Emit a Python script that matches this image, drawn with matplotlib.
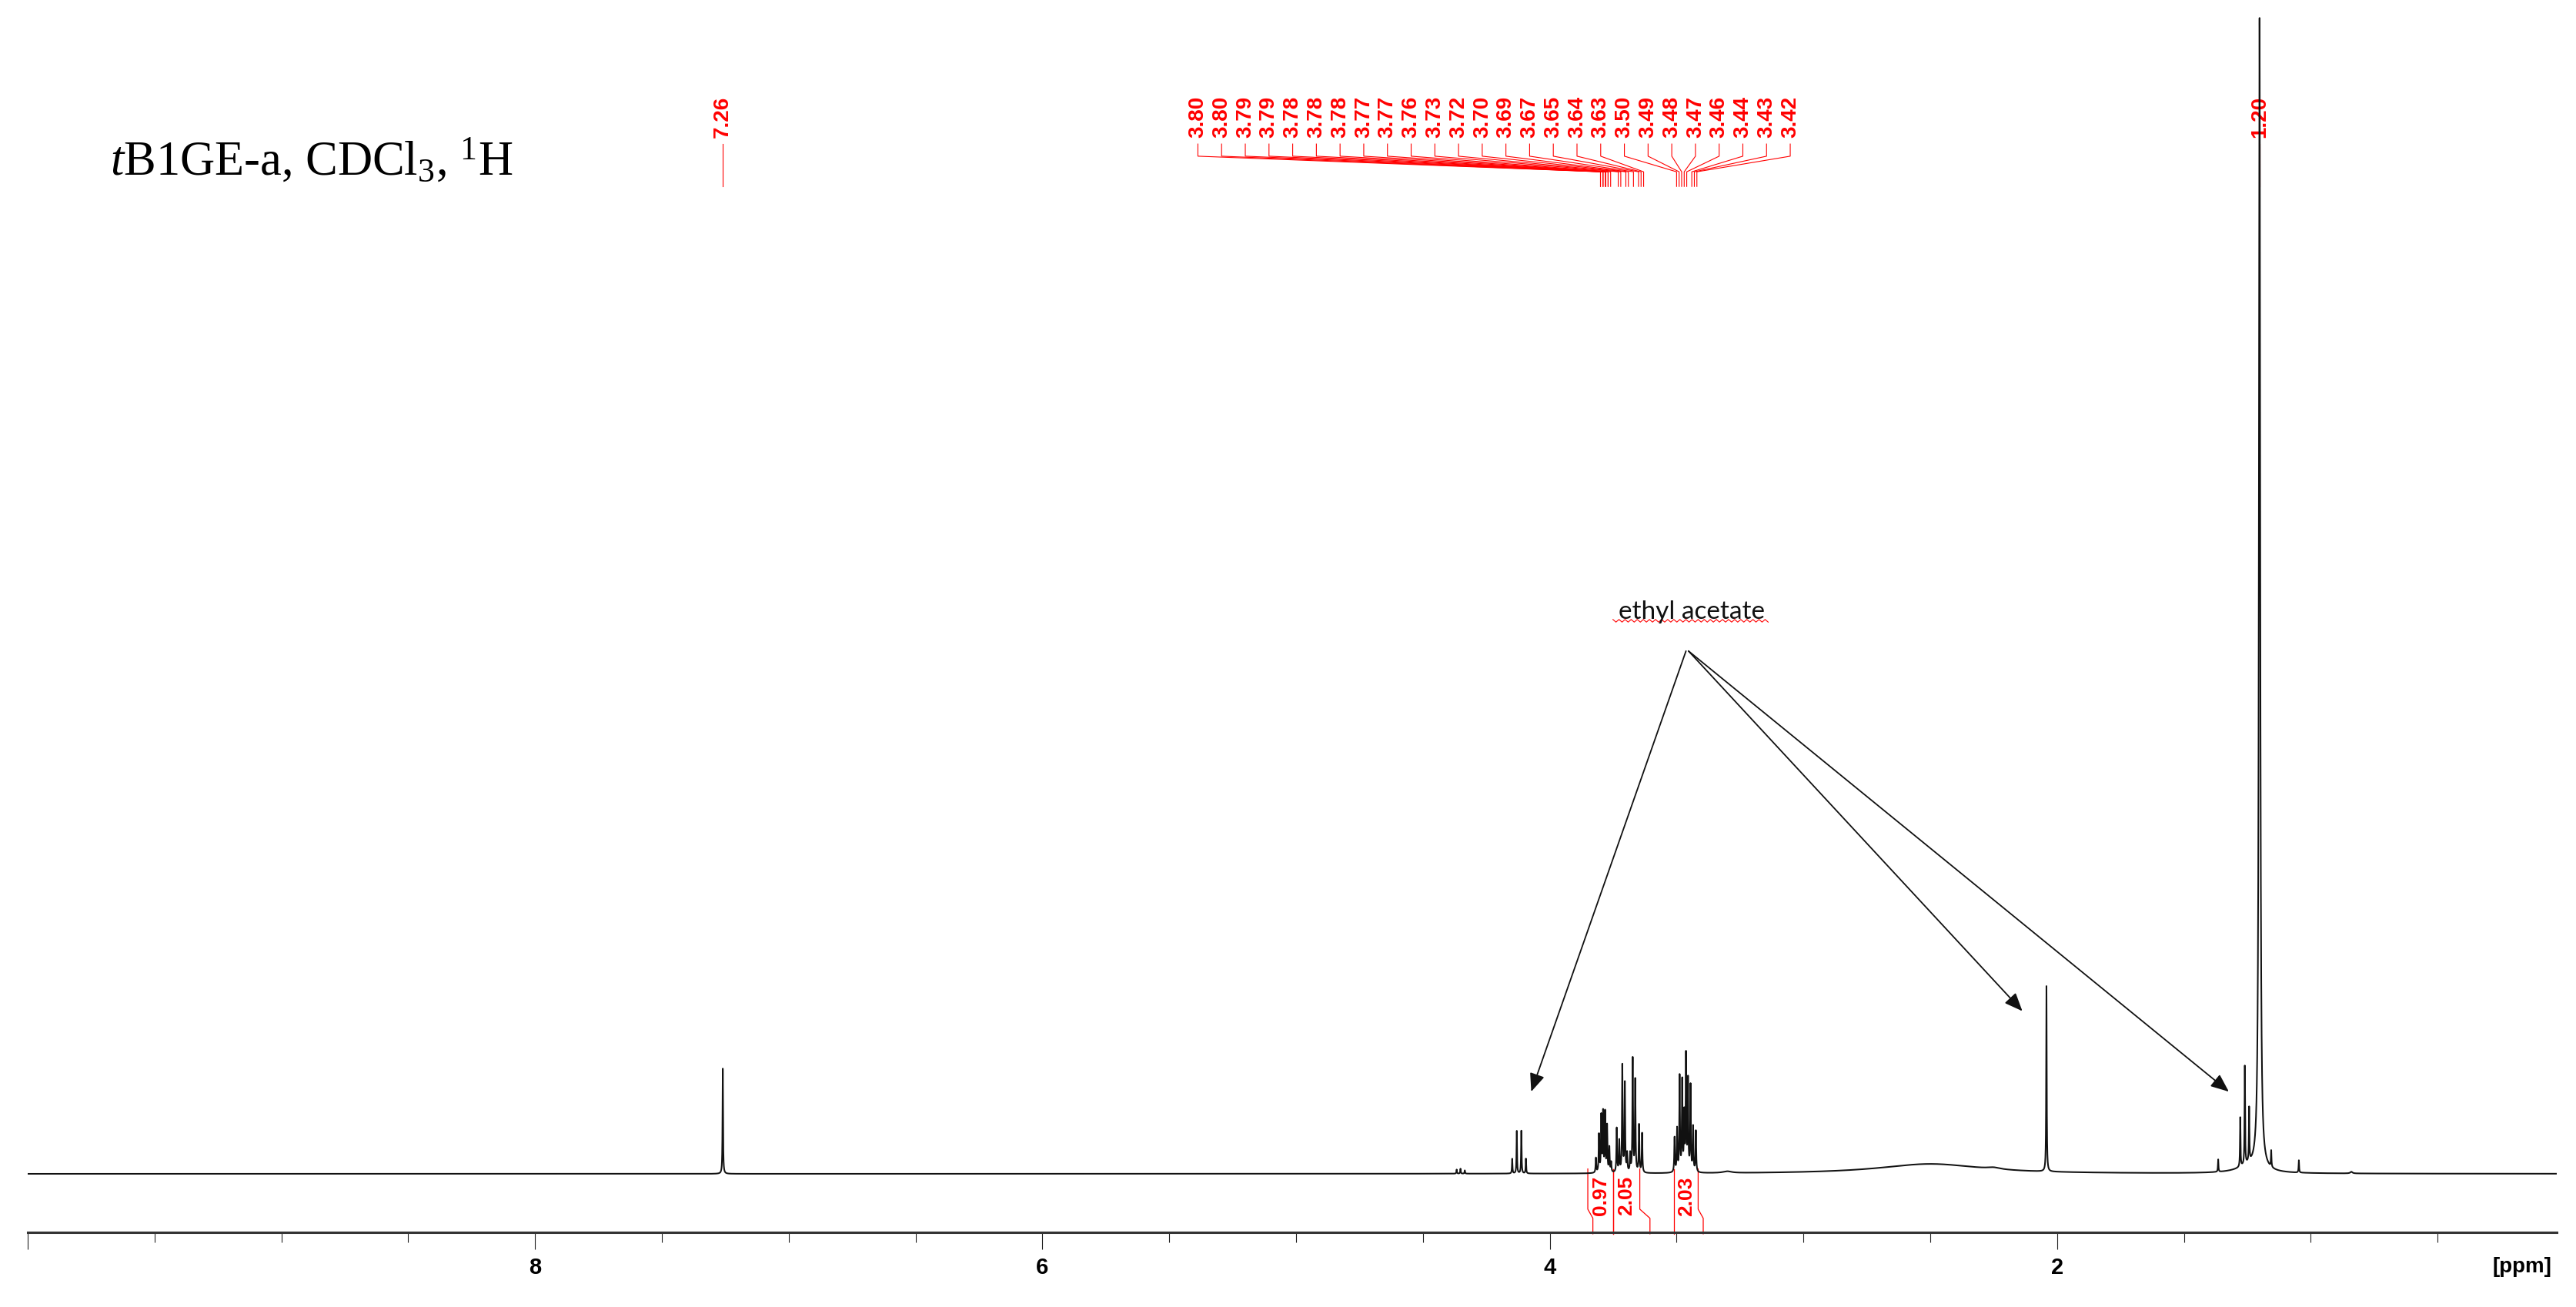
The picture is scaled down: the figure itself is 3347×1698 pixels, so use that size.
import numpy as np
import matplotlib.pyplot as plt

plt.rcParams['mathtext.fontset'] = 'custom'
plt.rcParams['mathtext.rm'] = 'Liberation Serif'
plt.rcParams['mathtext.it'] = 'Liberation Serif:italic'

# Peak list: position (ppm), height (arb.), half width (ppm)
peak_ppm = [7.26, 4.367, 4.352, 4.335,
            4.148, 4.130, 4.112, 4.094,
            3.818, 3.806, 3.797, 3.790, 3.782, 3.774, 3.765, 3.758,
            3.736, 3.726, 3.714, 3.704, 3.695, 3.683, 3.673, 3.663, 3.648, 3.636,
            3.508, 3.498, 3.488, 3.478, 3.470, 3.463, 3.455, 3.445, 3.435, 3.424,
            3.30, 2.50, 2.25, 2.042, 1.365,
            1.278, 1.260, 1.243, 1.24, 1.202, 1.156, 1.047, 0.84]
peak_height = [64, 2.5, 3, 2,
               9, 26, 26, 9,
               9, 23, 34, 36, 36, 28, 15, 6,
               27, 19, 65, 54, 11, 11, 69, 56, 29, 24,
               21, 26, 58, 55, 34, 70, 55, 52, 27, 25,
               1, 6, 1, 113, 7.5,
               30, 60, 33, 4, 700, 10, 7.5, 1]
peak_width = [0.0012, 0.0012, 0.0012, 0.0012,
              0.0012, 0.0012, 0.0012, 0.0012,
              0.0015, 0.0015, 0.0015, 0.0015, 0.0015, 0.0015, 0.0015, 0.0015,
              0.0015, 0.0015, 0.0015, 0.0015, 0.0015, 0.0015, 0.0015, 0.0015, 0.0015, 0.0015,
              0.0015, 0.0015, 0.0015, 0.0015, 0.0015, 0.0015, 0.0015, 0.0015, 0.0015, 0.0015,
              0.02, 0.25, 0.03, 0.0012, 0.0012,
              0.0012, 0.0012, 0.0012, 0.06, 0.003, 0.0012, 0.0012, 0.005]

# peak picking labels
picked = [7.26,
          3.80, 3.80, 3.79, 3.79, 3.78, 3.78, 3.78, 3.77, 3.77, 3.76,
          3.73, 3.72, 3.70, 3.69, 3.67, 3.65, 3.64, 3.63,
          3.50, 3.49, 3.48, 3.47, 3.46, 3.44, 3.43, 3.42,
          1.20]

# integrals
int_start = [3.85, 3.75, 3.51]
int_end = [3.75, 3.645, 3.415]
int_value = ['0.97', '2.05', '2.03']

# ethyl acetate arrows point at these signals
etoac_tips = [(4.073, 50), (2.137, 99), (1.323, 50)]

# spectrum from the peak list
ppm = np.linspace(10.0, 0.03, 40001)
spec = np.zeros_like(ppm)
for p, h, w in zip(peak_ppm, peak_height, peak_width):
    spec += h * w**2 / (w**2 + (ppm - p)**2)

fig = plt.figure(figsize=(33.47, 16.98), dpi=100)
L, W = 0.01076, 0.9818

ax = fig.add_axes([L, 0.05157, W, 0.94843])
ax.set_xlim(10.0, 0.03)
ax.set_ylim(-40, 714)
ax.axis('off')
ax.plot(ppm, spec, color='#111111', lw=1.45, zorder=3)

# peak labels with connector legs
red = '#ff0000'
group = [v for v in picked if 3.0 < v < 4.0]
group_x = 5.387 - 0.0934 * np.arange(len(group))
label_x = []
k = 0
for v in picked:
    if 3.0 < v < 4.0:
        label_x.append(group_x[k])
        k += 1
    else:
        label_x.append(v)
for v, xl in zip(picked, label_x):
    ax.text(xl, 643, f'{v:.2f}', rotation=90, ha='center', va='center',
            color=red, fontsize=20, fontweight='bold', family='Liberation Sans', zorder=2)
    ax.plot([xl, xl, v, v], [626.4, 619, 609.5, 600.6], color=red, lw=0.8, zorder=2)

# integrals
kink_left = [0.02, 0.0, 0.0]
kink_right = [0.0, 0.04, 0.02]
for a, b, val, kl, kr in zip(int_start, int_end, int_value, kink_left, kink_right):
    for x0, dk in [(a, kl), (b, kr)]:
        ax.plot([x0, x0, x0 - dk, x0 - dk], [3, -21.5, -27, -36.5], color=red, lw=0.9, zorder=2)
    ax.text((a + b) / 2, -13.5, val, rotation=90, ha='center', va='center',
            color=red, fontsize=19, fontweight='bold', family='Liberation Sans')

# ethyl acetate note
ax.text(3.44, 342, 'ethyl acetate', ha='center', va='center', fontsize=24,
        family='Lato', color='#111111')
zx = np.arange(3.751, 3.129, -0.012)
zy = 336.4 + 0.8 * (-1) ** np.arange(len(zx))
ax.plot(zx, zy, color=red, lw=0.8)
for i, tip in enumerate(etoac_tips):
    ax.annotate('', xy=tip, xytext=(3.463 - 0.01 * (i > 0), 318),
                arrowprops=dict(arrowstyle='-|>,head_length=0.6,head_width=0.25',
                                color='#111111', lw=1.3, mutation_scale=24,
                                shrinkA=0, shrinkB=0))

# ppm scale
ax_s = fig.add_axes([L, 0.0571, W, 0.0001])
ax_s.set_xlim(10.0, 0.03)
ax_s.set_ylim(0, 1)
for s in ['top', 'left', 'right']:
    ax_s.spines[s].set_visible(False)
ax_s.spines['bottom'].set_linewidth(2.2)
ax_s.spines['bottom'].set_color('#333333')
ax_s.set_yticks([])
ax_s.set_xticks([10, 8, 6, 4, 2])
ax_s.set_xticklabels(['', '8', '6', '4', '2'], fontweight='bold', family='Liberation Sans')
ax_s.set_xticks(np.arange(0.5, 10, 0.5), minor=True)
ax_s.tick_params(axis='x', which='major', direction='out', length=16, width=0.8,
                 pad=7, labelsize=21, color='#222222')
ax_s.tick_params(axis='x', which='minor', direction='out', length=9.5, width=0.8,
                 color='#222222')
fig.text(0.979, 0.0306, '[ppm]', ha='center', va='center', fontsize=20,
         fontweight='bold', family='Liberation Sans')

fig.text(0.0427, 0.8657, r'$\mathit{t}$B1GE-a, CDCl$_3$, $^1$H', fontsize=45,
         family='Liberation Serif', va='baseline')

fig.savefig('out.png', dpi=100)
